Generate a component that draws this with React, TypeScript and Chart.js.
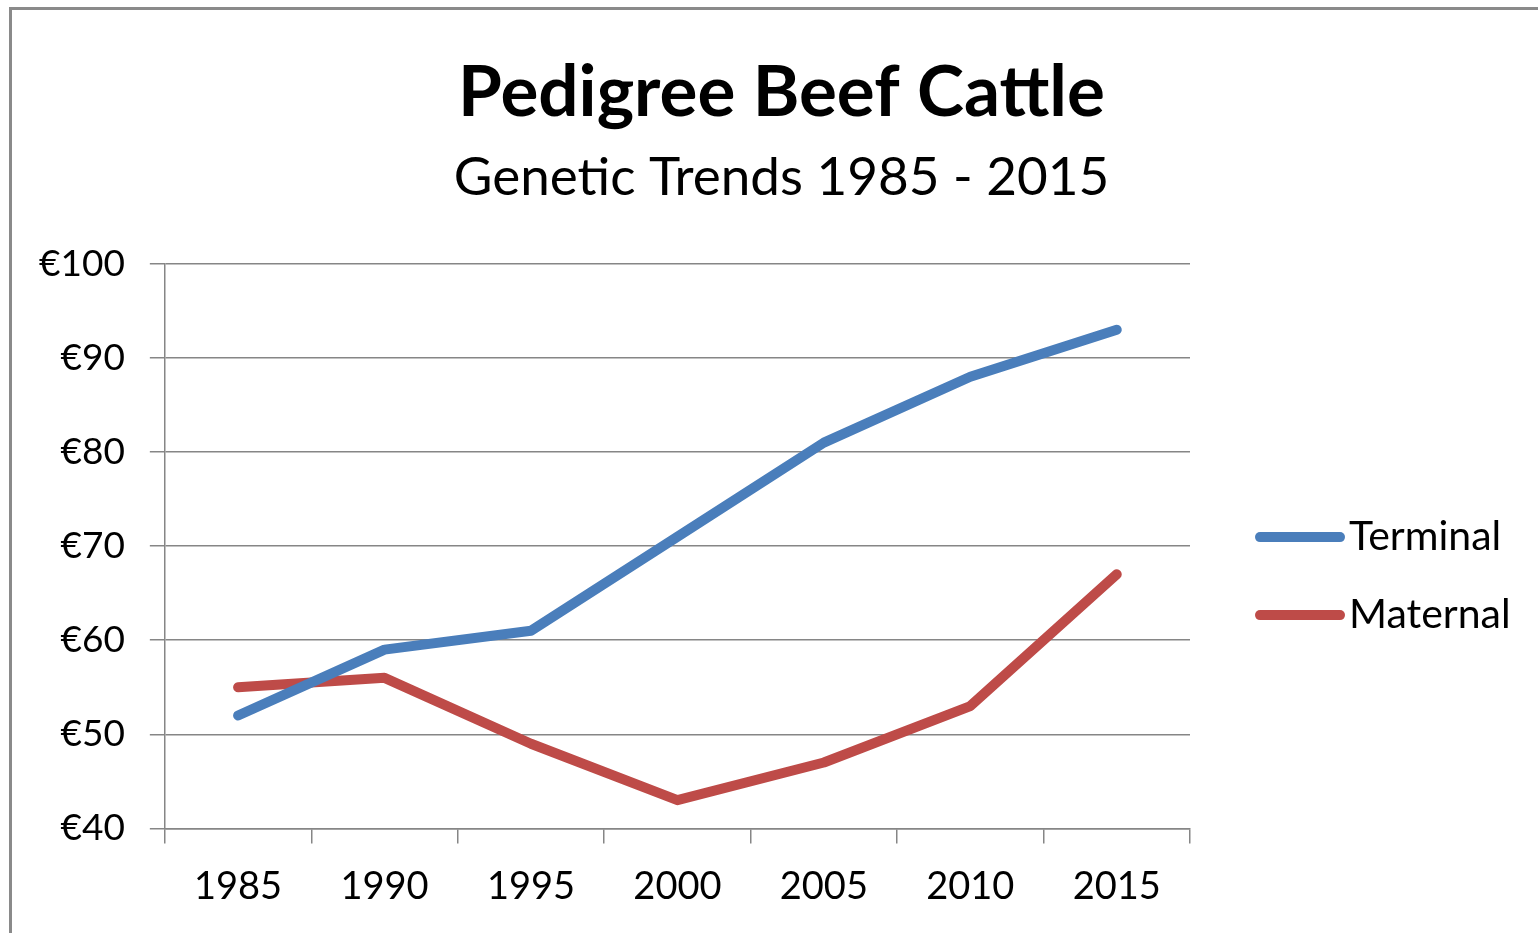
import React, { useEffect, useRef } from "react";
import { Chart, registerables } from "chart.js";

Chart.register(...registerables);

const years = ["1985", "1990", "1995", "2000", "2005", "2010", "2015"];
const terminal = [52, 59, 61, 71, 81, 88, 93];
const maternal = [55, 56, 49, 43, 47, 53, 67];
const yTicks = [40, 50, 60, 70, 80, 90, 100];
const seriesNames = ["Terminal", "Maternal"];
const seriesColors = ["#4A7EBB", "#BE4B48"];

const FONT = "Lato, 'Open Sans', sans-serif";

const customLegend = {
  id: "customLegend",
  afterDraw(chart: any) {
    const { ctx, chartArea } = chart;
    const x0 = chartArea.right + 65;
    const midY = (chartArea.top + chartArea.bottom) / 2 + 30;
    const gap = 78;
    ctx.save();
    chart.data.datasets.forEach((ds: any, i: number) => {
      const y = midY + (i - 0.5) * gap;
      ctx.strokeStyle = ds.borderColor;
      ctx.lineWidth = 10;
      ctx.lineCap = "round";
      ctx.beginPath();
      ctx.moveTo(x0 + 5, y);
      ctx.lineTo(x0 + 85, y);
      ctx.stroke();
      ctx.fillStyle = "#000";
      ctx.font = `41px ${FONT}`;
      ctx.textBaseline = "middle";
      ctx.textAlign = "left";
      ctx.fillText(ds.label, x0 + 94, y);
    });
    ctx.restore();
  },
};

export default function App() {
  const ref = useRef<HTMLCanvasElement | null>(null);

  useEffect(() => {
    const canvas = ref.current;
    if (!canvas) return;
    const chart = new Chart(canvas, {
      type: "line",
      data: {
        labels: years,
        datasets: [terminal, maternal].map((d, i) => ({
          label: seriesNames[i],
          data: d,
          borderColor: seriesColors[i],
          backgroundColor: seriesColors[i],
          borderWidth: 10,
          borderCapStyle: "round",
          borderJoinStyle: "round",
          pointRadius: 0,
          tension: 0,
          yAxisID: "y",
        })),
      },
      options: {
        responsive: false,
        animation: false,
        devicePixelRatio: 1,
        layout: { padding: { left: 3, top: 51, right: 0, bottom: 2 } },
        plugins: {
          title: {
            display: true,
            text: "Pedigree Beef Cattle",
            color: "#000",
            font: { family: FONT, size: 71, weight: "bold" },
            padding: { top: 0, bottom: 10 },
          },
          subtitle: {
            display: true,
            text: "Genetic Trends 1985 - 2015",
            color: "#000",
            font: { family: FONT, size: 53, weight: "normal" },
            padding: { top: 0, bottom: 54 },
          },
          legend: { display: false },
          tooltip: { enabled: false },
        },
        scales: {
          x: {
            offset: true,
            grid: {
              offset: true,
              drawOnChartArea: false,
              drawTicks: true,
              tickLength: 15,
              color: "#868686",
              lineWidth: 1.5,
            },
            border: { display: true, color: "#868686", width: 1.5 },
            ticks: {
              color: "#000",
              font: { family: FONT, size: 38 },
              padding: 21,
              maxRotation: 0,
            },
          },
          y: {
            min: 40,
            max: 100,
            afterBuildTicks: (axis: any) => {
              axis.ticks = yTicks.map((v) => ({ value: v }));
            },
            grid: {
              color: "#868686",
              lineWidth: 1.5,
              tickLength: 15,
            },
            border: { display: true, color: "#868686", width: 1.5 },
            ticks: {
              color: "#000",
              font: { family: FONT, size: 37 },
              padding: 25,
              callback: (v: any) => "€" + v,
            },
          },
          legendSpace: {
            type: "linear",
            position: "right",
            display: true,
            grid: { display: false, drawTicks: false },
            border: { display: false },
            ticks: { display: false },
            afterFit: (axis: any) => {
              axis.width = 359;
            },
          },
        },
      },
      plugins: [customLegend],
    });
    return () => chart.destroy();
  }, []);

  return (
    <div
      style={{
        position: "fixed",
        left: 0,
        top: 0,
        width: 1538,
        height: 933,
        overflow: "hidden",
        background: "#fff",
      }}
    >
      <div
        style={{
          position: "absolute",
          left: 9,
          top: 7,
          width: 1600,
          height: 1000,
          borderLeft: "3px solid #8a8a8a",
          borderTop: "3px solid #8a8a8a",
        }}
      />
      <canvas
        ref={ref}
        width={1538}
        height={933}
        style={{ position: "absolute", left: 11, top: 0 }}
      />
    </div>
  );
}
